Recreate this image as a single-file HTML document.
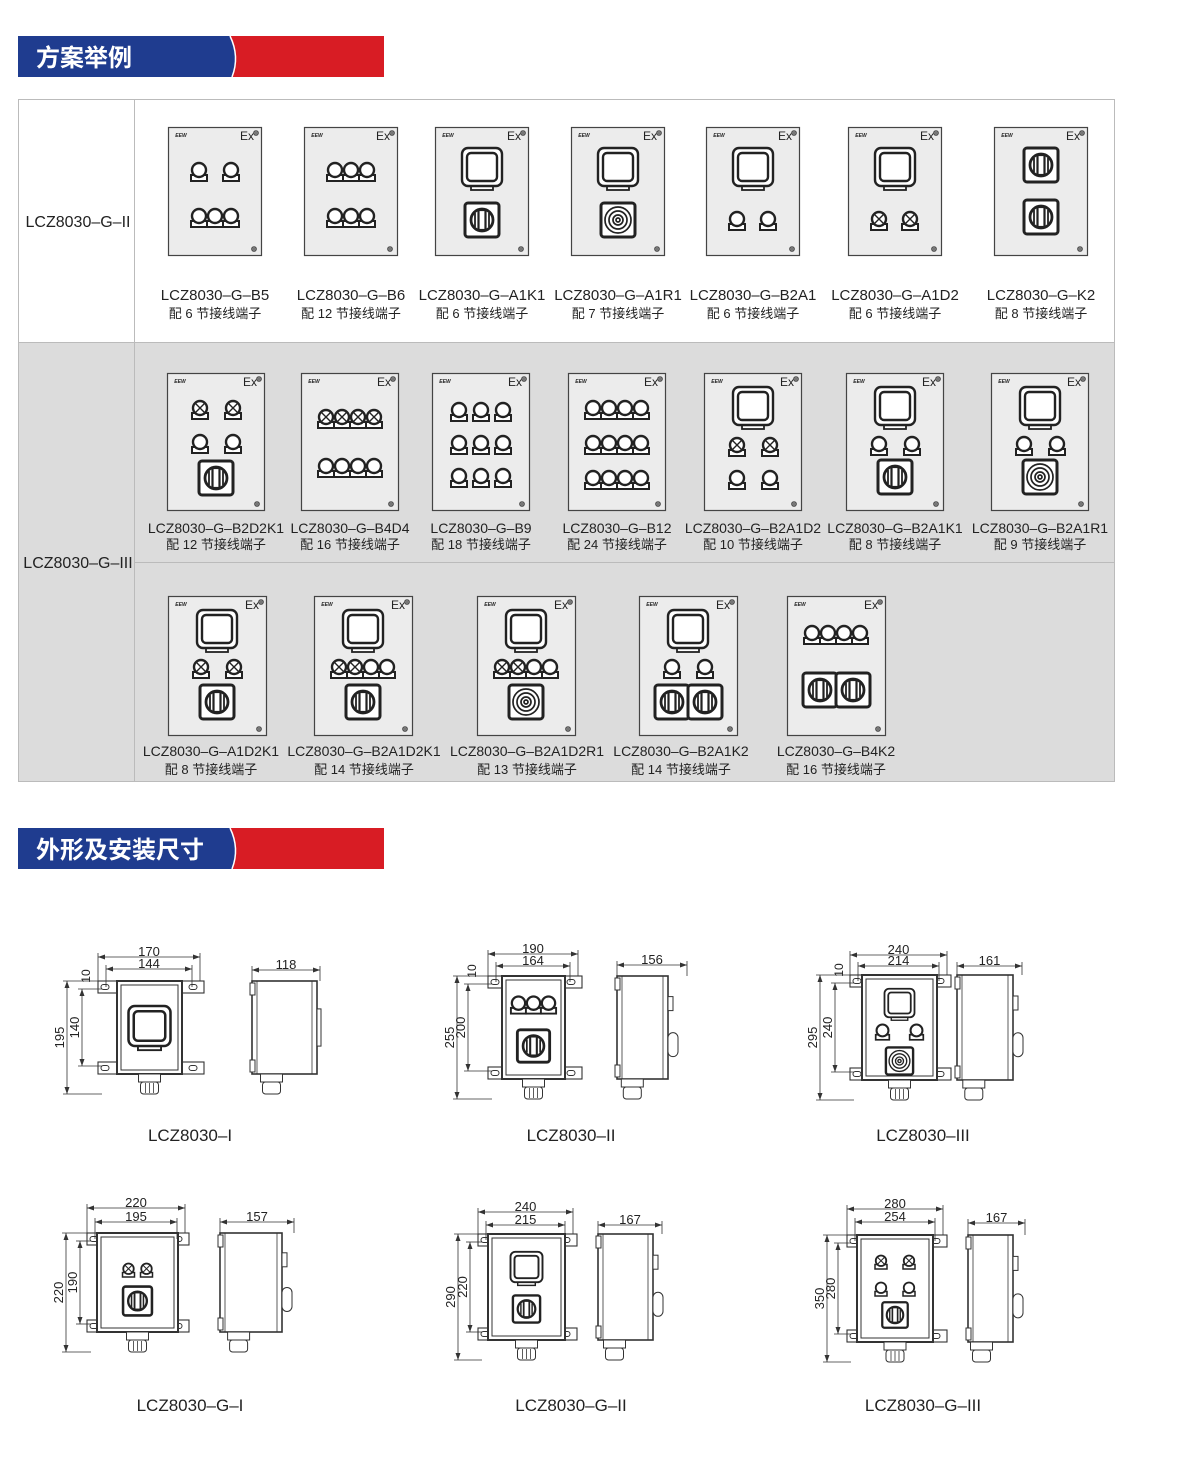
<!DOCTYPE html>
<html><head><meta charset="utf-8">
<style>
html,body{margin:0;padding:0;background:#fff;width:1200px;height:1460px;overflow:hidden}
svg{display:block}
text{font-family:"Liberation Sans","Noto Sans CJK SC",sans-serif;fill:#222}
</style></head>
<body>
<svg id="s" width="1200" height="1460" viewBox="0 0 1200 1460" xmlns="http://www.w3.org/2000/svg"></svg>
<script>
var o=[];
function P(s){o.push(s);}
function T(x,y,t,sz,anc,extra){P('<text x="'+x+'" y="'+y+'" font-size="'+sz+'" text-anchor="'+(anc||'middle')+'" '+(extra||'')+'>'+t+'</text>');}
function banner(y,t){
 P('<rect x="18" y="'+y+'" width="366" height="41" fill="#d81c24"/>');
 P('<path d="M18 '+y+' H230 Q240 '+(y+20.5)+' 232 '+(y+41)+' H18Z" fill="#1f3c8f"/>');
 P('<path d="M230 '+y+' Q240 '+(y+20.5)+' 232 '+(y+41)+'" fill="none" stroke="#fff" stroke-width="1.5"/>');
 T(36,y+30,t,24,'start','font-weight="bold" style="fill:#fff"');
}
banner(36,'方案举例');banner(828,'外形及安装尺寸');
P('<rect x="18" y="342" width="1096" height="439" fill="#dcdcdc"/>');
P('<rect x="18.5" y="99.5" width="1096" height="682" fill="none" stroke="#bbb"/>');
P('<line x1="134.5" y1="99" x2="134.5" y2="781" stroke="#bbb"/>');
P('<line x1="18" y1="342.5" x2="1114" y2="342.5" stroke="#bbb"/>');
P('<line x1="134" y1="562.5" x2="1114" y2="562.5" stroke="#bbb"/>');
T(78,227,'LCZ8030–G–II',16);T(78,568,'LCZ8030–G–III',16);
var C='#222';
function lamp(cx,cy,s,x){
 P('<rect x="'+(cx-8*s)+'" y="'+(cy+2*s)+'" width="'+16*s+'" height="'+6*s+'" fill="#fff" stroke="'+C+'" stroke-width="'+2*s+'"/>');
 P('<circle cx="'+cx+'" cy="'+(cy-3*s)+'" r="'+7*s+'" fill="#fff" stroke="'+C+'" stroke-width="'+2.4*s+'"/>');
 if(x){var d=4.5*s,yy=cy-3*s;P('<path d="M'+(cx-d)+' '+(yy-d)+'L'+(cx+d)+' '+(yy+d)+'M'+(cx+d)+' '+(yy-d)+'L'+(cx-d)+' '+(yy+d)+'" stroke="'+C+'" stroke-width="'+1.4*s+'"/>');}
}
function sw(cx,cy,s){
 P('<rect x="'+(cx-17*s)+'" y="'+(cy-17*s)+'" width="'+34*s+'" height="'+34*s+'" rx="'+3*s+'" fill="#fff" stroke="'+C+'" stroke-width="'+3*s+'"/>');
 P('<circle cx="'+cx+'" cy="'+cy+'" r="'+11*s+'" fill="#fff" stroke="'+C+'" stroke-width="'+2.8*s+'"/>');
 P('<rect x="'+(cx-3.5*s)+'" y="'+(cy-10*s)+'" width="'+7*s+'" height="'+20*s+'" fill="#fff" stroke="'+C+'" stroke-width="'+2.2*s+'"/>');
 P('<path d="M'+(cx-7*s)+' '+(cy-7*s)+'V'+(cy+7*s)+'M'+(cx+7*s)+' '+(cy-7*s)+'V'+(cy+7*s)+'" stroke="'+C+'" stroke-width="'+1.8*s+'"/>');
}
function win(cx,cy,s){
 P('<rect x="'+(cx-11*s)+'" y="'+(cy+16*s)+'" width="'+22*s+'" height="'+7*s+'" fill="#fff" stroke="'+C+'" stroke-width="'+1.8*s+'"/>');
 P('<rect x="'+(cx-20*s)+'" y="'+(cy-19*s)+'" width="'+40*s+'" height="'+38*s+'" rx="'+6*s+'" fill="#fff" stroke="'+C+'" stroke-width="'+2.4*s+'"/>');
 P('<rect x="'+(cx-15*s)+'" y="'+(cy-14*s)+'" width="'+30*s+'" height="'+28*s+'" rx="'+4*s+'" fill="#fff" stroke="'+C+'" stroke-width="'+2.4*s+'"/>');
}
function btn(cx,cy,s){
 P('<rect x="'+(cx-17*s)+'" y="'+(cy-17*s)+'" width="'+34*s+'" height="'+34*s+'" rx="'+3*s+'" fill="#fff" stroke="'+C+'" stroke-width="'+3*s+'"/>');
 [13,9,5,2].forEach(function(r){P('<circle cx="'+cx+'" cy="'+cy+'" r="'+r*s+'" fill="none" stroke="'+C+'" stroke-width="'+1.7*s+'"/>');});
}
function comp(c,bx,by){
 var t=c[0],x=bx+c[1],y=by+c[2],k=1;
 if(t=='l')lamp(x,y,k,0);else if(t=='x')lamp(x,y,k,1);else if(t=='k')sw(x,y,k);else if(t=='w')win(x,y,k);else if(t=='r')btn(x,y,k);
}
function box(x,y,w,h,items){
 P('<rect x="'+(x+.5)+'" y="'+(y+.5)+'" width="'+w+'" height="'+h+'" fill="#ececec" stroke="#444" stroke-width="1.2"/>');
 T(x+13,y+10,'EEW',5,'middle','font-weight="bold" font-style="italic"');
 T(x+w-14,y+13,'Ex',12);
 P('<circle cx="'+(x+w-5)+'" cy="'+(y+6)+'" r="2.5" fill="#777" stroke="#333" stroke-width=".6"/>');
 P('<circle cx="'+(x+w-7)+'" cy="'+(y+h-6)+'" r="2.5" fill="#777" stroke="#333" stroke-width=".6"/>');
 items.forEach(function(c){comp(c,x,y);});
}
var r1=[
[168,'LCZ8030–G–B5','配 6 节接线端子',[['l',31,46],['l',63,46],['l',31,92],['l',47,92],['l',63,92]]],
[304,'LCZ8030–G–B6','配 12 节接线端子',[['l',31,46],['l',47,46],['l',63,46],['l',31,92],['l',47,92],['l',63,92]]],
[435,'LCZ8030–G–A1K1','配 6 节接线端子',[['w',47,40],['k',47,93]]],
[571,'LCZ8030–G–A1R1','配 7 节接线端子',[['w',47,40],['r',47,93]]],
[706,'LCZ8030–G–B2A1','配 6 节接线端子',[['w',47,40],['l',31,95],['l',62,95]]],
[848,'LCZ8030–G–A1D2','配 6 节接线端子',[['w',47,40],['x',31,95],['x',62,95]]],
[994,'LCZ8030–G–K2','配 8 节接线端子',[['k',47,38],['k',47,90]]]];
r1.forEach(function(b){box(b[0],127,93,128,b[3]);T(b[0]+47,300,b[1],15);T(b[0]+47,318,b[2],13);});
function grid(xs,ys,t){var r=[];ys.forEach(function(y,j){xs.forEach(function(x){r.push([typeof t=='string'?t:t[j],x,y]);});});return r;}
var r2=[
[167,'LCZ8030–G–B2D2K1','配 12 节接线端子',[['x',33,38],['x',66,38],['l',33,72],['l',66,72],['k',49,105]]],
[301,'LCZ8030–G–B4D4','配 16 节接线端子',grid([25,41,57,73],[47,96],['x','l'])],
[432,'LCZ8030–G–B9','配 18 节接线端子',grid([27,49,71],[40,73,106],'l')],
[568,'LCZ8030–G–B12','配 24 节接线端子',grid([25,41,57,73],[38,73,108],'l')],
[704,'LCZ8030–G–B2A1D2','配 10 节接线端子',[['w',49,33],['x',33,75],['x',66,75],['l',33,108],['l',66,108]]],
[846,'LCZ8030–G–B2A1K1','配 8 节接线端子',[['w',49,33],['l',33,74],['l',66,74],['k',49,104]]],
[991,'LCZ8030–G–B2A1R1','配 9 节接线端子',[['w',49,33],['l',33,74],['l',66,74],['r',49,104]]]];
r2.forEach(function(b){box(b[0],373,97,137,b[3]);T(b[0]+49,533,b[1],14);T(b[0]+49,549,b[2],13);});
var r3=[
[168,'LCZ8030–G–A1D2K1','配 8 节接线端子',[['w',49,33],['x',33,74],['x',66,74],['k',49,106]]],
[314,'LCZ8030–G–B2A1D2K1','配 14 节接线端子',[['w',49,33],['x',25,74],['x',41,74],['l',57,74],['l',73,74],['k',49,106]]],
[477,'LCZ8030–G–B2A1D2R1','配 13 节接线端子',[['w',49,33],['x',25,74],['x',41,74],['l',57,74],['l',73,74],['r',49,106]]],
[639,'LCZ8030–G–B2A1K2','配 14 节接线端子',[['w',49,33],['l',33,74],['l',66,74],['k',33,106],['k',66,106]]],
[787,'LCZ8030–G–B4K2','配 16 节接线端子',[['l',25,40],['l',41,40],['l',57,40],['l',73,40],['k',33,94],['k',66,94]]]];
var lx3=[211,364,527,681,836];
r3.forEach(function(b,i){box(b[0],596,98,139,b[3]);T(lx3[i],756,b[1],14);T(lx3[i],774,b[2],13);});
var L='#333';
function ln(x1,y1,x2,y2,w){P('<line x1="'+x1+'" y1="'+y1+'" x2="'+x2+'" y2="'+y2+'" stroke="'+L+'" stroke-width="'+(w||0.8)+'"/>');}
function hd(x1,x2,y,t,ext){ln(x1,y,x2,y);P('<path d="M'+x1+' '+y+'l7 -2.5v5zM'+x2+' '+y+'l-7 -2.5v5z" fill="'+L+'"/>');ln(x1,y-4,x1,ext);ln(x2,y-4,x2,ext);T((x1+x2)/2,y-1,t,13);}
function vd(x,y1,y2,t,ext){ln(x,y1,x,y2);P('<path d="M'+x+' '+y1+'l-2.5 7h5zM'+x+' '+y2+'l-2.5 -7h5z" fill="'+L+'"/>');ln(x-4,y1,ext,y1);ln(x-4,y2,ext,y2);var cy=(y1+y2)/2;T(x-3,cy,t,13,'middle','transform="rotate(-90 '+(x-3)+' '+cy+')"');}
function front(bx1,bx2,by1,by2,fx1,fx2){
 var fh=12;
 [[by1,fx1,bx1],[by1,bx2,fx2],[by2-fh,fx1,bx1],[by2-fh,bx2,fx2]].forEach(function(f){P('<rect x="'+f[1]+'" y="'+f[0]+'" width="'+(f[2]-f[1]+4)+'" height="'+fh+'" fill="#fff" stroke="'+L+'" stroke-width="1.1"/>');});
 [[fx1+7,by1+6],[fx2-7,by1+6],[fx1+7,by2-6],[fx2-7,by2-6]].forEach(function(p){P('<rect x="'+(p[0]-4)+'" y="'+(p[1]-2.5)+'" width="8" height="5" rx="2.5" fill="none" stroke="'+L+'"/>');});
 P('<rect x="'+bx1+'" y="'+by1+'" width="'+(bx2-bx1)+'" height="'+(by2-by1)+'" fill="#fff" stroke="'+L+'" stroke-width="2"/>');
 P('<rect x="'+(bx1+4)+'" y="'+(by1+4)+'" width="'+(bx2-bx1-8)+'" height="'+(by2-by1-8)+'" fill="none" stroke="'+L+'" stroke-width="1"/>');
 var gx=(bx1+bx2)/2;
 P('<rect x="'+(gx-11)+'" y="'+by2+'" width="22" height="8" fill="#fff" stroke="'+L+'"/>');
 P('<rect x="'+(gx-9)+'" y="'+(by2+8)+'" width="18" height="12" rx="3" fill="#fff" stroke="'+L+'"/>');
 ln(gx-4,by2+9,gx-4,by2+19);ln(gx+4,by2+9,gx+4,by2+19);ln(gx,by2+9,gx,by2+19);
}
function side(x1,x2,y1,y2,bt){
 P('<rect x="'+x1+'" y="'+y1+'" width="'+(x2-x1)+'" height="'+(y2-y1)+'" fill="#fff" stroke="'+L+'" stroke-width="1.6"/>');
 ln(x1+5,y1,x1+5,y2);ln(x2-5,y1,x2-5,y2);
 P('<rect x="'+(x1-2)+'" y="'+(y1+2)+'" width="5" height="12" fill="#fff" stroke="'+L+'"/><rect x="'+(x1-2)+'" y="'+(y2-14)+'" width="5" height="12" fill="#fff" stroke="'+L+'"/>');
 if(bt){P('<rect x="'+x2+'" y="'+(y1+(y2-y1)*0.2)+'" width="5" height="14" fill="#fff" stroke="'+L+'"/><rect x="'+x2+'" y="'+(y1+(y2-y1)*0.55)+'" width="10" height="24" rx="5" fill="#fff" stroke="'+L+'"/>');}
 else P('<rect x="'+x2+'" y="'+(y1+(y2-y1)*0.3)+'" width="4" height="'+((y2-y1)*0.4)+'" fill="#fff" stroke="'+L+'"/>');
 var gx=x1+(x2-x1)*0.3;
 P('<rect x="'+(gx-11)+'" y="'+y2+'" width="22" height="8" fill="#fff" stroke="'+L+'"/><rect x="'+(gx-9)+'" y="'+(y2+8)+'" width="18" height="12" rx="3" fill="#fff" stroke="'+L+'"/>');
}
var G=[
{b:[117,182,981,1074],f:[98,200],d1:[957,'170'],d2:[969,'144'],v1:[67,'195'],v2:[82,'140'],ten:1,s:[252,317,320],d3:[970,'118'],lab:[190,1141,'LCZ8030–I'],c:[['w',0,45,1.05]]},
{b:[502,565,976,1079],f:[488,578],d1:[954,'190'],d2:[966,'164'],v1:[457,'255'],v2:[468,'200'],ten:1,s:[617,668,687],d3:[965,'156'],lab:[571,1141,'LCZ8030–II'],bt:1,c:[['l',-15,30,.95],['l',0,30,.95],['l',15,30,.95],['k',0,70,.95]]},
{b:[862,937,975,1080],f:[850,947],d1:[955,'240'],d2:[966,'214'],v1:[820,'295'],v2:[835,'240'],ten:1,s:[957,1013,1022],d3:[966,'161'],lab:[923,1141,'LCZ8030–III'],bt:1,c:[['w',0,28,.75],['l',-17,58,.85],['l',17,58,.85],['r',0,86,.8]]},
{b:[97,178,1233,1332],f:[87,185],d1:[1208,'220'],d2:[1222,'195'],v1:[66,'220'],v2:[80,'190'],s:[220,282,294],d3:[1222,'157'],lab:[190,1411,'LCZ8030–G–I'],bt:1,c:[['x',-9,38,.75],['x',9,38,.75],['k',0,68,.85]]},
{b:[488,565,1234,1340],f:[478,573],d1:[1212,'240'],d2:[1225,'215'],v1:[458,'290'],v2:[470,'220'],s:[598,653,662],d3:[1225,'167'],lab:[571,1411,'LCZ8030–G–II'],bt:1,c:[['w',0,33,.8],['k',0,75,.8]]},
{b:[857,933,1235,1342],f:[847,943],d1:[1209,'280'],d2:[1222,'254'],v1:[827,'350'],v2:[838,'280'],s:[968,1013,1025],d3:[1223,'167'],lab:[923,1411,'LCZ8030–G–III'],bt:1,c:[['x',-14,28,.75],['x',14,28,.75],['l',-14,55,.75],['l',14,55,.75],['k',0,80,.75]]}
];
G.forEach(function(g){
 front(g.b[0],g.b[1],g.b[2],g.b[3],g.f[0],g.f[1]);
 var cx=(g.b[0]+g.b[1])/2;
 g.c.forEach(function(c){var s=c[3]||0.7;var fn={l:function(x,y){lamp(x,y,s,0)},x:function(x,y){lamp(x,y,s,1)},k:function(x,y){sw(x,y,s)},w:function(x,y){win(x,y,s)},r:function(x,y){btn(x,y,s)}}[c[0]];fn(cx+c[1],g.b[2]+c[2]);});
 hd(g.f[0],g.f[1],g.d1[0],g.d1[1],g.b[2]);hd(g.f[0]+8,g.f[1]-8,g.d2[0],g.d2[1],g.b[2]+6);
 vd(g.v1[0],g.b[2],g.b[3]+20,g.v1[1],g.f[0]+4);vd(g.v2[0],g.b[2]+8,g.b[3]-8,g.v2[1],g.f[0]+4);
 if(g.ten)T(g.v2[0]+8,g.b[2]-5,'10',12,'middle','transform="rotate(-90 '+(g.v2[0]+8)+' '+(g.b[2]-5)+')"');
 side(g.s[0],g.s[1],g.b[2],g.b[3],g.bt);
 hd(g.s[0],g.s[2],g.d3[0],g.d3[1],g.b[2]);
 T(g.lab[0],g.lab[1],g.lab[2],17);
});
document.getElementById('s').innerHTML=o.join('');
</script>
</body></html>
